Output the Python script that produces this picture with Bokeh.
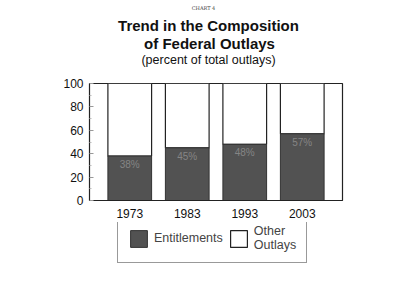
from bokeh.plotting import figure
from bokeh.models import Legend, LegendItem, ColumnDataSource, FixedTicker, Label
from bokeh.layouts import column
from bokeh.embed import file_html
from bokeh.resources import INLINE
from bokeh.core.properties import value

years = ["1973", "1983", "1993", "2003"]
entitlements = [38, 45, 48, 57]
labels = ["38%", "45%", "48%", "57%"]
total = [100, 100, 100, 100]
yticks = [0, 20, 40, 60, 80, 100]
minor_yticks = [10, 30, 50, 70, 90]
series_names = ["Entitlements", "Other\nOutlays"]

FONT = "Liberation Sans"
DARK = "#525252"

src = ColumnDataSource(dict(x=years, ent=entitlements, tot=total, lab=labels))

def bare(fig):
    fig.grid.visible = False
    fig.outline_line_color = None
    fig.background_fill_color = "white"
    fig.border_fill_color = "white"

FL = 89  # frame left offset shared by the aligned column of figures

# ---------- header ----------
h = figure(width=400, height=75, x_range=(0, 1), y_range=(0, 1),
           output_backend="svg", toolbar_location=None,
           x_axis_location=None, y_axis_location=None,
           min_border_left=0, min_border_right=0, min_border_top=0, min_border_bottom=0)
bare(h)

def lab(text, x, y, size, bold=False, font=FONT, color="#111111"):
    h.add_layout(Label(x=x - FL, y=y, x_units="screen", y_units="screen", text=text,
                       text_font=font, text_font_size=size, text_align="center",
                       text_baseline="middle", text_color=color,
                       text_font_style="bold" if bold else "normal"))

lab("CHART 4", 203, 68, "5px", font="DejaVu Serif", color="#444444")
lab("Trend in the Composition", 208, 50, "15px", bold=True)
lab("of Federal Outlays", 209, 32, "15px", bold=True)
lab("(percent of total outlays)", 208, 16, "12.5px")

# ---------- chart ----------
p = figure(x_range=years, y_range=(0, 100), width=400, height=147,
           frame_width=253, frame_height=117,
           output_backend="svg", toolbar_location=None,
           min_border_left=89, min_border_right=58,
           min_border_top=8, min_border_bottom=22)
p.x_range.range_padding = 0.2
p.x_range.range_padding_units = "absolute"

p.vbar(x="x", bottom="ent", top="tot", width=0.76, source=src,
       fill_color="white", line_color="#222222", line_width=1.2)
p.vbar(x="x", top="ent", bottom=0, width=0.76, source=src,
       fill_color=DARK, line_color="#333333", line_width=1)
p.text(x="x", y="ent", text="lab", source=src, text_align="center",
       text_baseline="top", y_offset=3, text_color="#858585",
       text_font=value(FONT), text_font_size="10px")

bare(p)
p.outline_line_color = "#222222"
p.outline_line_width = 1.2

p.yaxis.ticker = FixedTicker(ticks=yticks, minor_ticks=minor_yticks)
p.yaxis.major_tick_in = 4
p.yaxis.major_tick_out = 0
p.yaxis.minor_tick_in = 2
p.yaxis.minor_tick_out = 0
p.yaxis.major_tick_line_color = "#999999"
p.yaxis.minor_tick_line_color = "#bbbbbb"
p.yaxis.major_label_text_font = FONT
p.yaxis.major_label_text_font_size = "12px"
p.yaxis.major_label_text_color = "#111111"
p.yaxis.axis_line_color = "#222222"
p.yaxis.major_label_standoff = 6
p.xaxis.major_tick_line_color = None
p.xaxis.major_label_text_font = FONT
p.xaxis.major_label_text_font_size = "12px"
p.xaxis.major_label_text_color = "#111111"
p.xaxis.axis_line_color = "#222222"
p.xaxis.major_label_standoff = 2

# ---------- legend ----------
q = figure(x_range=years, y_range=(1000, 1100), width=400, height=83,
           output_backend="svg", toolbar_location=None,
           x_axis_location=None, y_axis_location=None,
           min_border_left=0, min_border_right=0, min_border_top=0, min_border_bottom=0)
bare(q)
q_ent = q.vbar(x="x", top="ent", bottom=0, width=0.76, source=src,
               fill_color=DARK, line_color="#333333", line_width=1)
q_oth = q.vbar(x="x", bottom="ent", top="tot", width=0.76, source=src,
               fill_color="white", line_color="#222222", line_width=1.2)

legend = Legend(items=[LegendItem(label=series_names[0], renderers=[q_ent]),
                       LegendItem(label=series_names[1], renderers=[q_oth])],
                orientation="horizontal", location=(117 - FL, 42),
                label_text_font=FONT, label_text_font_size="12.5px",
                label_text_line_height=0.9,
                glyph_width=21, glyph_height=21, spacing=5, padding=10,
                border_line_color="#333333", border_line_width=1.2,
                label_standoff=5, margin=0)
q.add_layout(legend, "center")

layout = column(h, p, q, spacing=0)
out = file_html(layout, INLINE)
open("out.html", "w").write(out)
